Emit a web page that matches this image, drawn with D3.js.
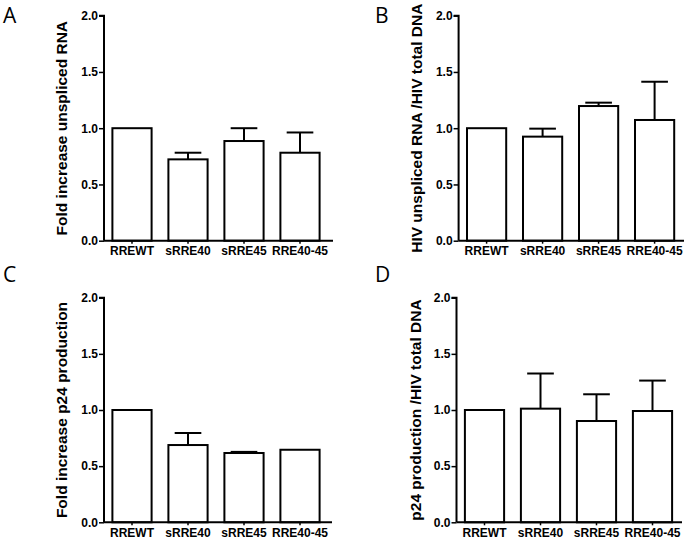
<!DOCTYPE html>
<html><head><meta charset="utf-8">
<script src="https://cdn.jsdelivr.net/npm/d3@7"></script>
<style>body{margin:0;background:#fff}svg{display:block}</style>
</head><body>
<svg id="c" width="687" height="540"></svg>
<script>
const categories = ["RREWT", "sRRE40", "sRRE45", "RRE40-45"];
const yTicks = [0.0, 0.5, 1.0, 1.5, 2.0];

const valuesA = [1.0, 0.723, 0.886, 0.782];
const errorsA = [null, 0.782, 1.0, 0.962];
const valuesB = [1.0, 0.925, 1.197, 1.073];
const errorsB = [null, 0.996, 1.227, 1.413];
const valuesC = [1.0, 0.688, 0.617, 0.646];
const errorsC = [null, 0.795, 0.627, null];
const valuesD = [1.0, 1.012, 0.902, 0.991];
const errorsD = [null, 1.325, 1.140, 1.262];

const titles = ["Fold increase unspliced RNA", "HIV unspliced RNA /HIV total DNA",
                "Fold increase p24 production", "p24 production /HIV total DNA"];
const letters = ["A", "B", "C", "D"];

const layout = [
  {ax: 104,   x0: 104,   x1: 328,   xe: 333, yb: 240.7, yt: 15.7,  tx: 67,  lx: 3,   ly: 23},
  {ax: 458.6, x0: 458.6, x1: 682.6, xe: 684, yb: 240.7, yt: 15.7,  tx: 422, lx: 375, ly: 23},
  {ax: 104,   x0: 104,   x1: 328,   xe: 332, yb: 522.3, yt: 297.7, tx: 67,  lx: 3,   ly: 282},
  {ax: 456.5, x0: 456.5, x1: 680.5, xe: 682, yb: 522.3, yt: 297.7, tx: 421, lx: 375, ly: 282}
];
const data = [[valuesA, errorsA], [valuesB, errorsB], [valuesC, errorsC], [valuesD, errorsD]];

const svg = d3.select("#c");
const F = "'Liberation Sans', Arial, sans-serif";

data.forEach(([vals, errs], i) => {
  const L = layout[i];
  const g = svg.append("g");
  const y = d3.scaleLinear().domain([0, 2]).range([L.yb, L.yt]);
  const x = d3.scaleBand().domain(categories).range([L.x0, L.x1]).paddingInner(0.3).paddingOuter(0.15);

  // bars
  g.selectAll("rect.bar").data(categories).join("rect")
    .attr("x", d => x(d)).attr("width", x.bandwidth())
    .attr("y", (d, j) => y(vals[j])).attr("height", (d, j) => y(0) - y(vals[j]))
    .attr("fill", "#fff").attr("stroke", "#000").attr("stroke-width", 2);

  // error bars
  const cap = x.bandwidth() * 0.68;
  categories.forEach((c, j) => {
    if (errs[j] == null) return;
    const cx = x(c) + x.bandwidth() / 2;
    g.append("line").attr("x1", cx).attr("x2", cx).attr("y1", y(vals[j])).attr("y2", y(errs[j]))
      .attr("stroke", "#000").attr("stroke-width", 2);
    g.append("line").attr("x1", cx - cap / 2).attr("x2", cx + cap / 2).attr("y1", y(errs[j])).attr("y2", y(errs[j]))
      .attr("stroke", "#000").attr("stroke-width", 2);
  });

  // y axis
  const ya = g.append("g").attr("transform", `translate(${L.ax},0)`)
    .call(d3.axisLeft(y).tickValues(yTicks).tickFormat(d3.format(".1f")).tickSize(5).tickPadding(1));
  ya.select(".domain").attr("d", `M-5,${L.yt}H0V${L.yb}`).attr("stroke-width", 2);
  ya.selectAll(".tick line").attr("stroke-width", 1.5);
  ya.selectAll(".tick text").attr("font-family", F).attr("font-weight", "bold").attr("font-size", 12).attr("fill", "#000");

  // x axis
  const xa = g.append("g").attr("transform", `translate(0,${L.yb})`)
    .call(d3.axisBottom(x).tickSize(3).tickPadding(3));
  xa.select(".domain").attr("d", `M${L.ax},0H${L.xe}`).attr("stroke-width", 2);
  xa.selectAll(".tick line").attr("stroke-width", 1.5);
  xa.selectAll(".tick text").attr("font-family", F).attr("font-weight", "bold").attr("font-size", 12).attr("fill", "#000");

  // title
  g.append("text").attr("transform", `translate(${L.tx},${(L.yt + L.yb) / 2}) rotate(-90)`)
    .attr("text-anchor", "middle").attr("font-family", F).attr("font-weight", "bold")
    .attr("font-size", 15.5).text(titles[i]);

  // letter
  g.append("text").attr("x", L.lx).attr("y", L.ly).attr("font-family", "'Open Sans', sans-serif")
    .attr("font-size", 21).text(letters[i]);
});
</script>
</body></html>
